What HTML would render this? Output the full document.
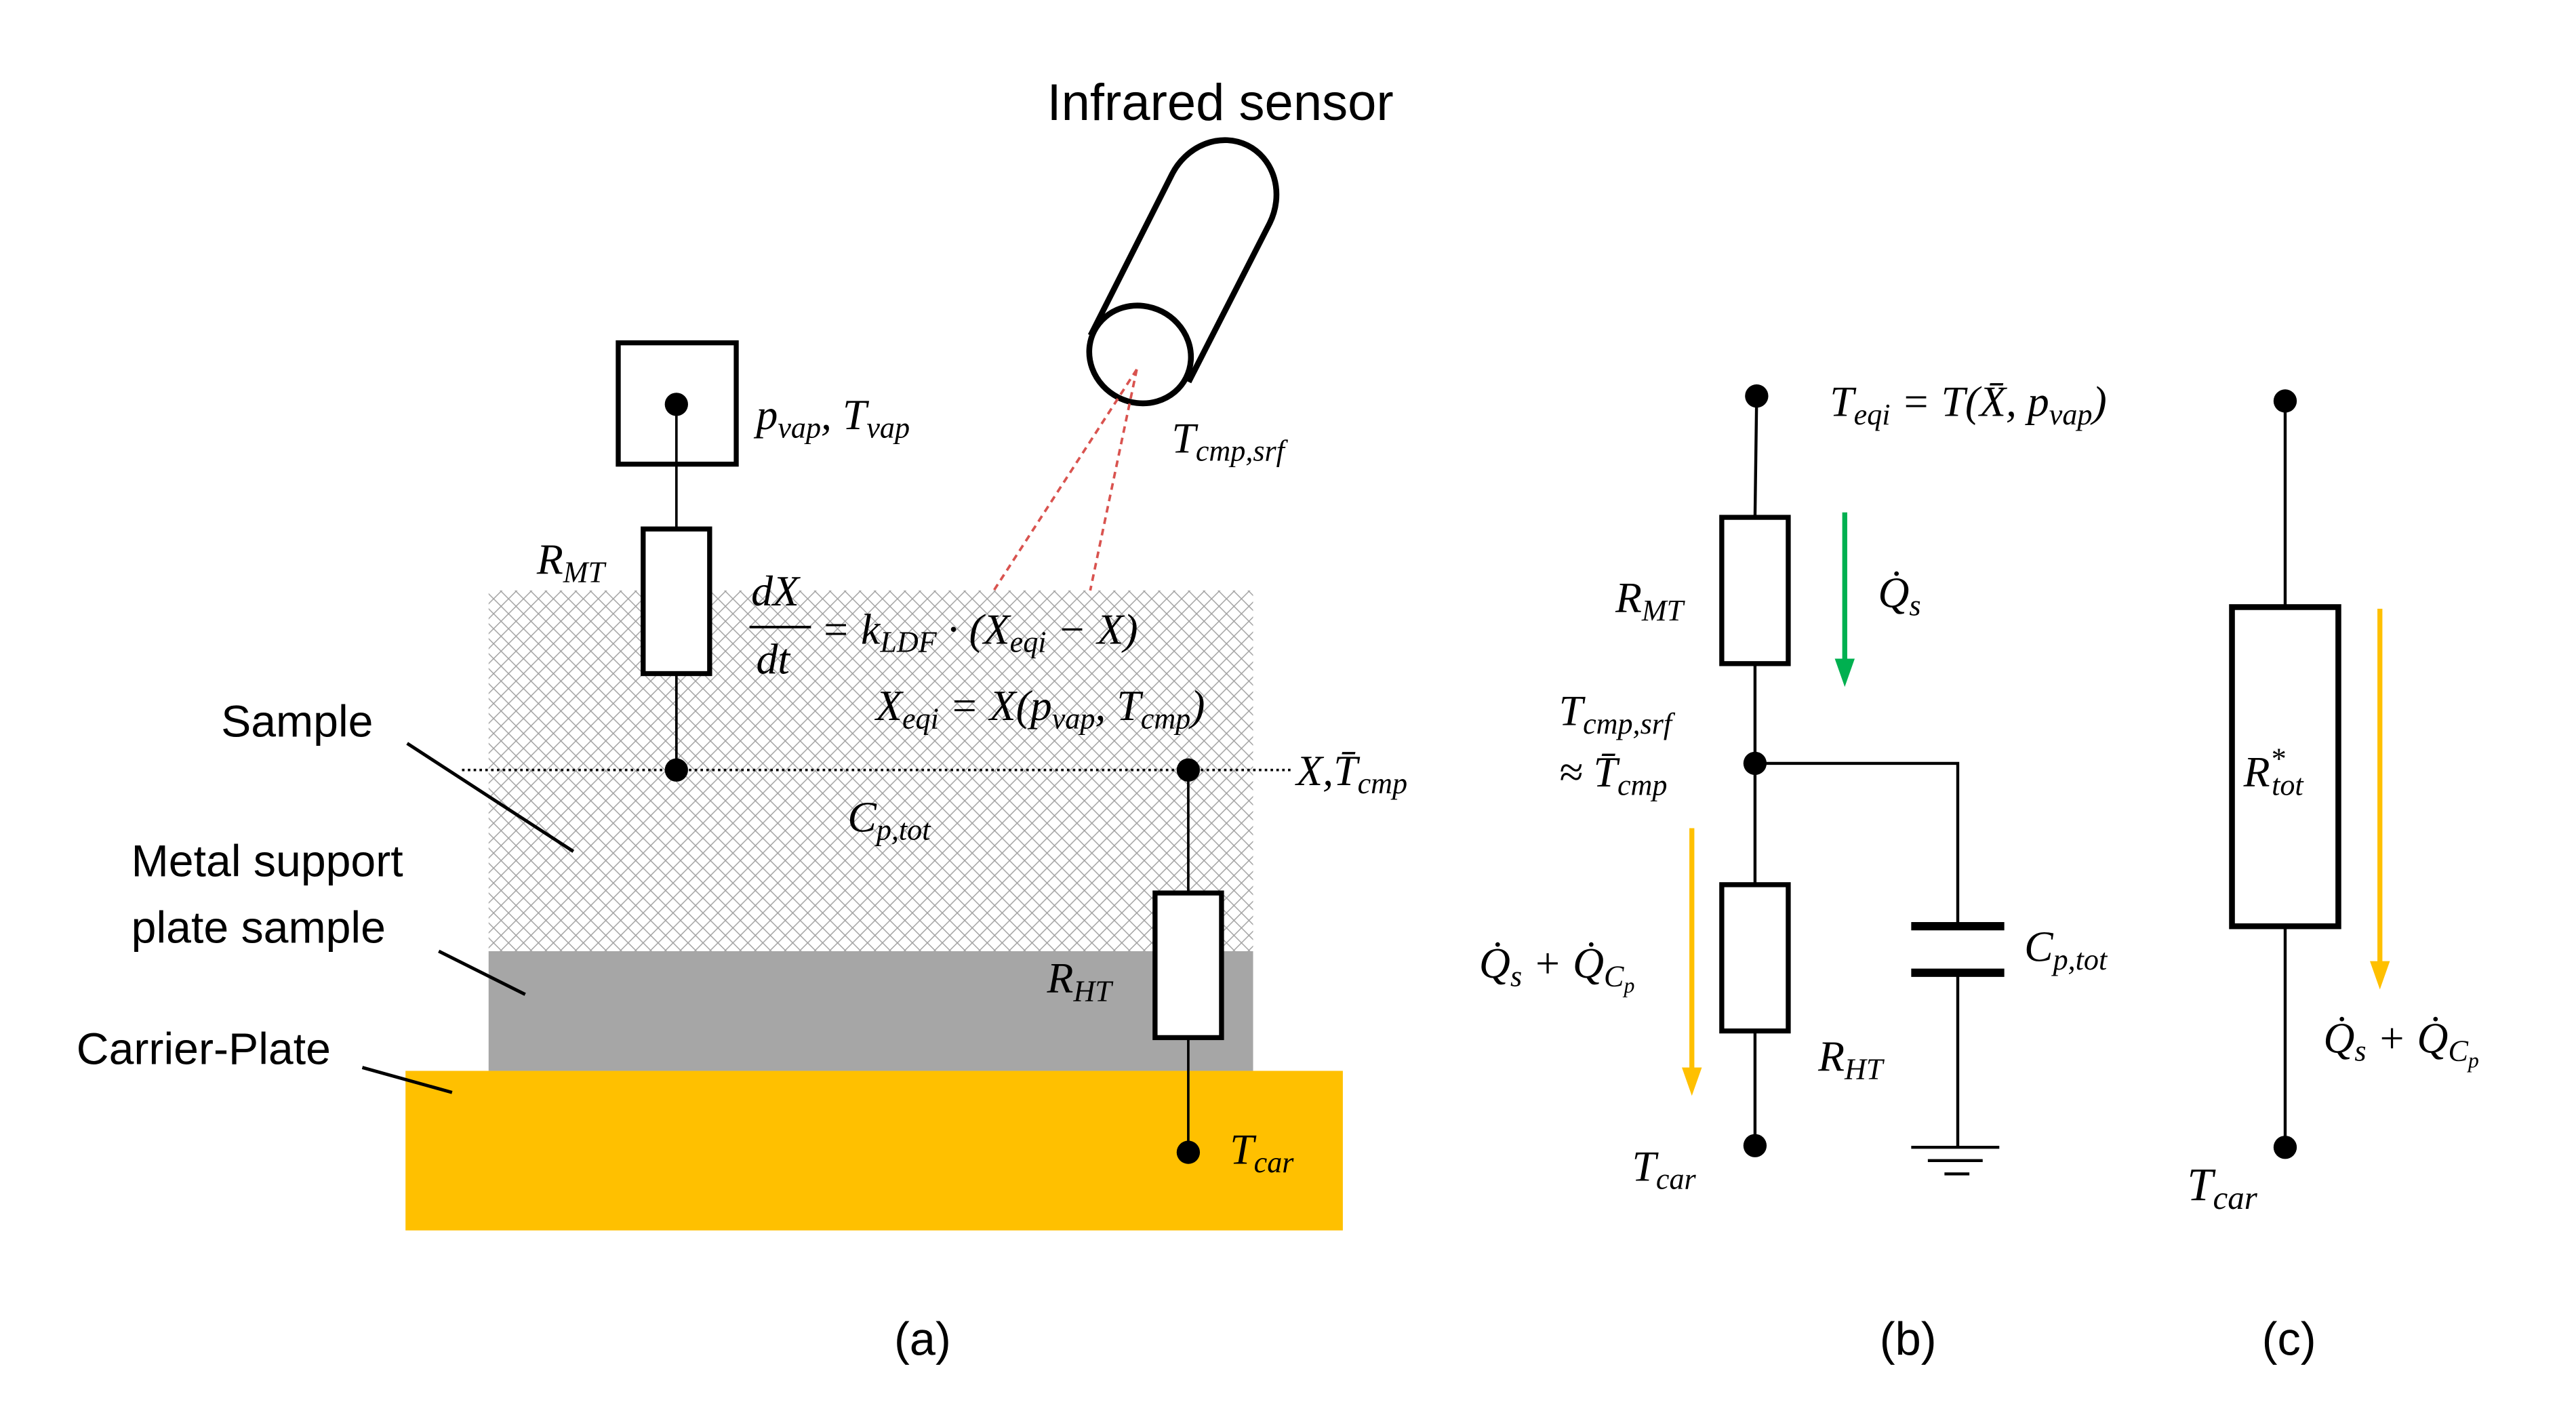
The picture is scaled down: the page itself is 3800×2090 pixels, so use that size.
<!DOCTYPE html>
<html><head><meta charset="utf-8"><style>html,body{margin:0;padding:0;background:#fff}svg{display:block}</style></head>
<body>
<svg width="3800" height="2090" viewBox="0 0 1550 852" xmlns="http://www.w3.org/2000/svg">
<defs>
<pattern id="h" width="9" height="9" patternUnits="userSpaceOnUse">
<path d="M0,0L9,9M9,0L0,9" stroke="#a0a0a0" stroke-width="0.6"/>
</pattern>
</defs>
<g font-family="Liberation Serif, serif" font-style="italic" font-size="26" fill="#000">
<!-- panel a -->
<rect x="294" y="355" width="460" height="217" fill="#fff"/>
<rect x="294" y="355" width="460" height="217" fill="url(#h)"/>
<rect x="294" y="572" width="460" height="72" fill="#a6a6a6"/>
<rect x="244" y="644" width="564" height="96" fill="#ffc000"/>
<line x1="278" y1="463" x2="778" y2="463" stroke="#000" stroke-width="1.5" stroke-dasharray="1.5,2"/>
<rect x="372" y="206" width="71" height="73" fill="none" stroke="#000" stroke-width="3"/>
<line x1="407" y1="243" x2="407" y2="318" stroke="#000" stroke-width="1.5"/>
<circle cx="407" cy="243" r="7"/>
<rect x="387" y="318" width="40" height="87" fill="#fff" stroke="#000" stroke-width="3"/>
<line x1="407" y1="405" x2="407" y2="463" stroke="#000" stroke-width="1.5"/>
<circle cx="407" cy="463" r="7"/>
<line x1="715" y1="463" x2="715" y2="693" stroke="#000" stroke-width="1.5"/>
<circle cx="715" cy="463" r="7"/>
<rect x="695" y="537" width="40" height="87" fill="#fff" stroke="#000" stroke-width="3"/>
<circle cx="715" cy="693" r="7"/>
<!-- sensor -->
<g stroke="#000" stroke-width="3.5" fill="#fff">
<path d="M657,200 L705,105 A30,33 27 0 1 764,134 L716,228 Z"/>
<ellipse cx="686" cy="213" rx="31" ry="29" transform="rotate(27 686 213)"/>
</g>
<line x1="684" y1="222" x2="598" y2="355" stroke="#d9534f" stroke-width="1.5" stroke-dasharray="4,3"/>
<line x1="684" y1="222" x2="656" y2="355" stroke="#d9534f" stroke-width="1.5" stroke-dasharray="4,3"/>
<text x="630" y="72" font-family="Liberation Sans, sans-serif" font-style="normal" font-size="31">Infrared sensor</text>
<text x="133" y="443" font-family="Liberation Sans, sans-serif" font-style="normal" font-size="27">Sample</text>
<text x="79" y="527" font-family="Liberation Sans, sans-serif" font-style="normal" font-size="27">Metal support</text>
<text x="79" y="567" font-family="Liberation Sans, sans-serif" font-style="normal" font-size="27">plate sample</text>
<text x="46" y="640" font-family="Liberation Sans, sans-serif" font-style="normal" font-size="27">Carrier-Plate</text>
<g stroke="#000" stroke-width="2"><line x1="245" y1="447" x2="345" y2="512"/><line x1="264" y1="572" x2="316" y2="598"/><line x1="218" y1="642" x2="272" y2="657"/></g>
<text x="455" y="258">p<tspan font-size="18" dy="5">vap</tspan><tspan dy="-5">, T</tspan><tspan font-size="18" dy="5">vap</tspan></text>
<text x="705" y="272">T<tspan font-size="18" dy="5">cmp,srf</tspan></text>
<text x="323" y="345">R<tspan font-size="18" dy="5">MT</tspan></text>
<text x="452" y="364">dX</text>
<line x1="451" y1="377" x2="488" y2="377" stroke="#000" stroke-width="1.5"/>
<text x="455" y="405">dt</text>
<text x="494" y="387">= k<tspan font-size="18" dy="5">LDF</tspan><tspan dy="-5"> · (X</tspan><tspan font-size="18" dy="5">eqi</tspan><tspan dy="-5"> − X)</tspan></text>
<text x="527" y="433">X<tspan font-size="18" dy="5">eqi</tspan><tspan dy="-5"> = X(p</tspan><tspan font-size="18" dy="5">vap</tspan><tspan dy="-5">, T</tspan><tspan font-size="18" dy="5">cmp</tspan><tspan dy="-5">)</tspan></text>
<text x="780" y="472">X,T̄<tspan font-size="18" dy="5">cmp</tspan></text>
<text x="510" y="500">C<tspan font-size="18" dy="5">p,tot</tspan></text>
<text x="630" y="597">R<tspan font-size="18" dy="5">HT</tspan></text>
<text x="740" y="700">T<tspan font-size="18" dy="5">car</tspan></text>
<!-- panel b -->
<g stroke="#000" stroke-width="1.8" fill="none">
<line x1="1057" y1="238" x2="1056" y2="311"/>
<line x1="1056" y1="399" x2="1056" y2="689"/>
<polyline points="1056,459 1178,459 1178,557"/>
<line x1="1178" y1="585" x2="1178" y2="690"/>
<line x1="1150" y1="690" x2="1203" y2="690"/>
<line x1="1160" y1="698" x2="1193" y2="698"/>
<line x1="1170" y1="706" x2="1185" y2="706"/>
</g>
<line x1="1150" y1="557" x2="1206" y2="557" stroke="#000" stroke-width="5"/>
<line x1="1150" y1="585" x2="1206" y2="585" stroke="#000" stroke-width="5"/>
<rect x="1036" y="311" width="40" height="88" fill="#fff" stroke="#000" stroke-width="3"/>
<rect x="1036" y="532" width="40" height="88" fill="#fff" stroke="#000" stroke-width="3"/>
<circle cx="1057" cy="238" r="7"/><circle cx="1056" cy="459" r="7"/><circle cx="1056" cy="689" r="7"/>
<line x1="1110" y1="308" x2="1110" y2="398" stroke="#00b050" stroke-width="3"/>
<polygon points="1104,396 1116,396 1110,413" fill="#00b050"/>
<line x1="1018" y1="498" x2="1018" y2="644" stroke="#ffc000" stroke-width="3"/>
<polygon points="1012,642 1024,642 1018,659" fill="#ffc000"/>
<text x="1101" y="250">T<tspan font-size="18" dy="5">eqi</tspan><tspan dy="-5"> = T(X̄, p</tspan><tspan font-size="18" dy="5">vap</tspan><tspan dy="-5">)</tspan></text>
<text x="972" y="368">R<tspan font-size="18" dy="5">MT</tspan></text>
<text x="1130" y="365">Q̇<tspan font-size="18" dy="5">s</tspan></text>
<text x="938" y="436">T<tspan font-size="18" dy="5">cmp,srf</tspan></text>
<text x="938" y="473">≈ T̄<tspan font-size="18" dy="5">cmp</tspan></text>
<text x="890" y="588">Q̇<tspan font-size="18" dy="5">s</tspan><tspan dy="-5"> + Q̇</tspan><tspan font-size="18" dy="5">C</tspan><tspan font-size="13" dy="4">p</tspan></text>
<text x="1218" y="578">C<tspan font-size="18" dy="5">p,tot</tspan></text>
<text x="1094" y="644">R<tspan font-size="18" dy="5">HT</tspan></text>
<text x="982" y="710">T<tspan font-size="18" dy="5">car</tspan></text>
<!-- panel c -->
<line x1="1375" y1="241" x2="1375" y2="690" stroke="#000" stroke-width="1.8"/>
<rect x="1343" y="365" width="64" height="192" fill="#fff" stroke="#000" stroke-width="3.5"/>
<circle cx="1375" cy="241" r="7"/><circle cx="1375" cy="690" r="7"/>
<line x1="1432" y1="366" x2="1432" y2="580" stroke="#ffc000" stroke-width="3"/>
<polygon points="1426,578 1438,578 1432,595" fill="#ffc000"/>
<text x="1350" y="473">R<tspan font-size="18" dy="-11">*</tspan><tspan font-size="18" dx="-8" dy="16">tot</tspan></text>
<text x="1398" y="633">Q̇<tspan font-size="18" dy="5">s</tspan><tspan dy="-5"> + Q̇</tspan><tspan font-size="18" dy="5">C</tspan><tspan font-size="13" dy="4">p</tspan></text>
<text x="1316" y="722" font-size="28">T<tspan font-size="20" dy="5">car</tspan></text>
<g font-family="Liberation Sans, sans-serif" font-style="normal" font-size="28">
<text x="538" y="815">(a)</text><text x="1131" y="815">(b)</text><text x="1361" y="815">(c)</text>
</g>
</g>
</svg>
</body></html>
